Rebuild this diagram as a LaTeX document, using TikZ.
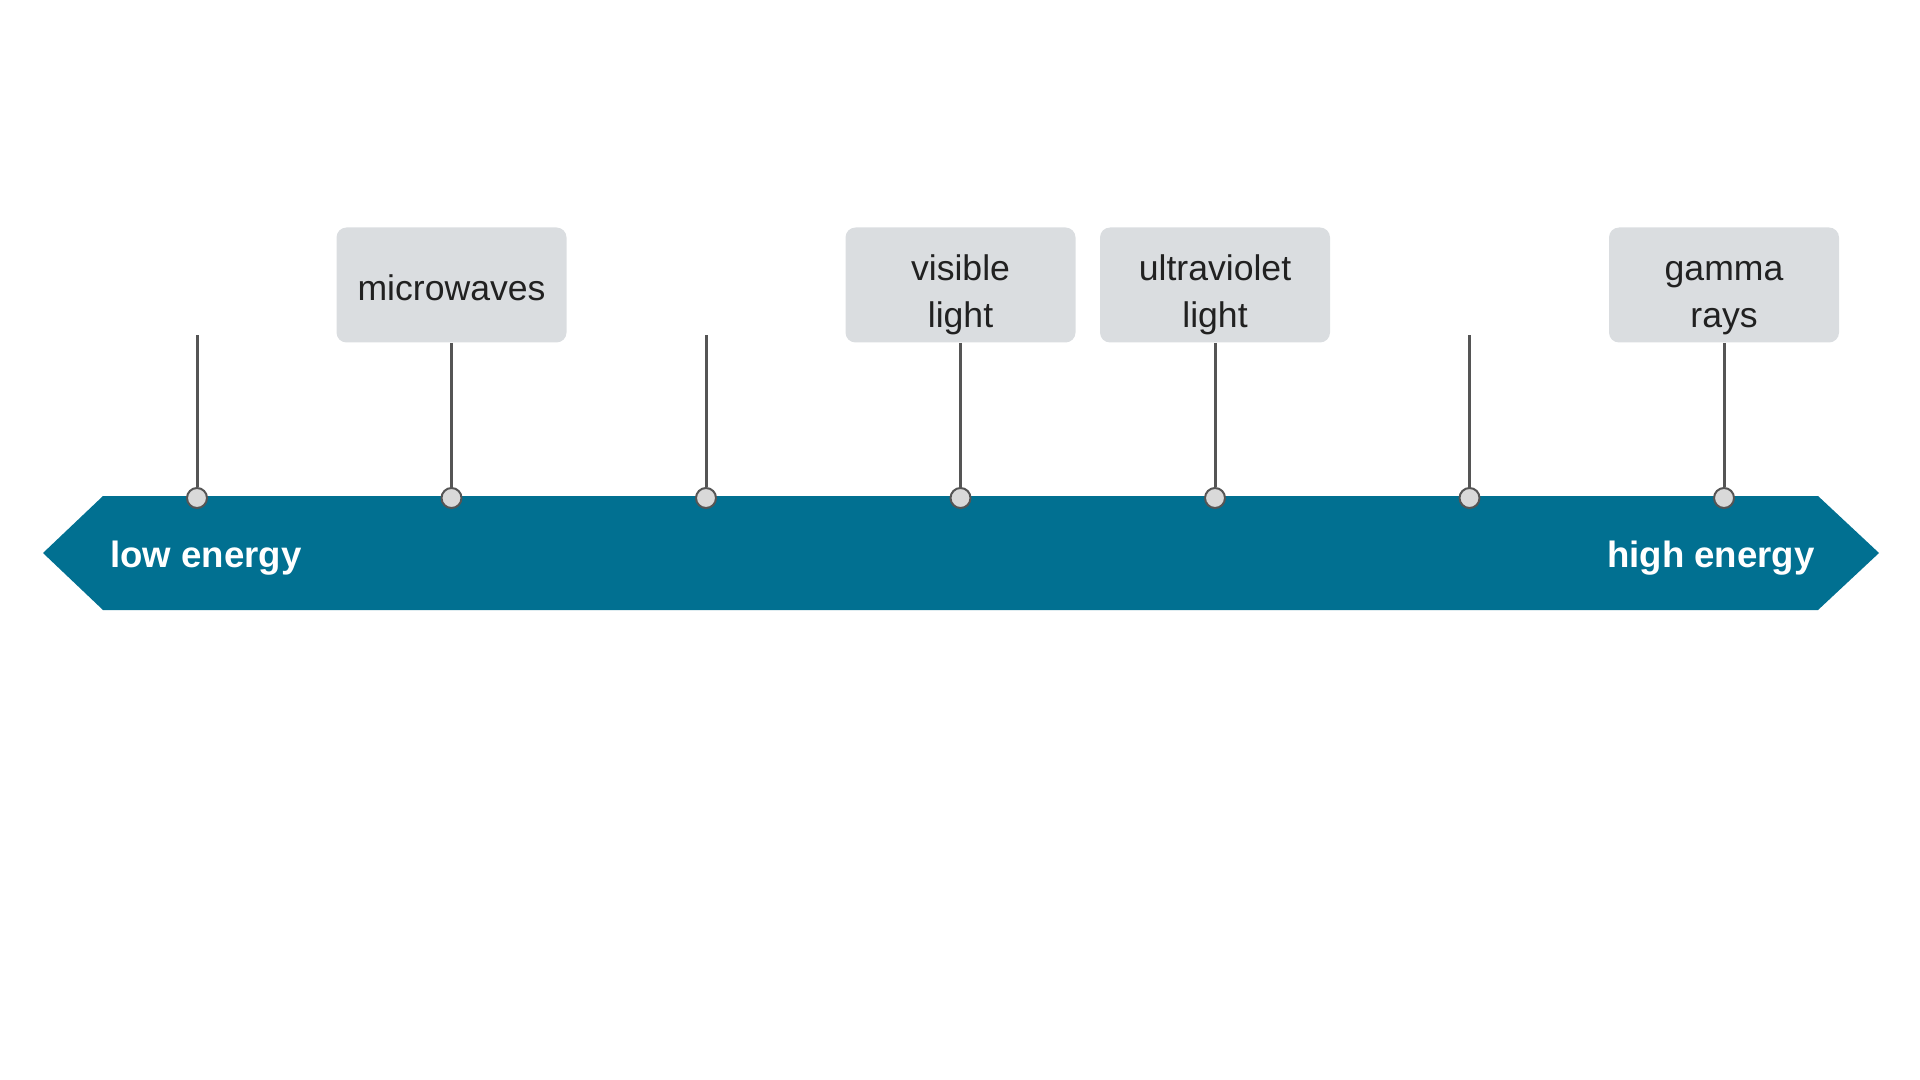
\documentclass[tikz,border=0pt]{standalone}
\usepackage{fontspec}
\setmainfont{Liberation Sans}
\usetikzlibrary{positioning}
\definecolor{bandblue}{HTML}{017091}
\definecolor{boxgray}{HTML}{DADDE0}
\definecolor{stemgray}{HTML}{555555}
\definecolor{dotgray}{HTML}{D9D9D9}

\begin{document}
\begin{tikzpicture}[x=0.5pt,y=-0.5pt,node distance=127.25pt,on grid,
	band/.style={fill=bandblue},
	tag/.style={fill=boxgray,rounded corners=5pt,minimum width=115pt,minimum height=57.5pt,
		inner sep=0pt,align=center,text=black!87,font=\fontsize{17.8}{23.5}\selectfont},
	oneline/.style={text height=15.2pt,text depth=0pt},
	twoline/.style={text height=43pt,text depth=0pt},
	dot/.style={circle,fill=dotgray,draw=stemgray,line width=1pt,inner sep=0pt,minimum size=10pt},
	stem/.style={draw=stemgray,line width=1.5pt},
	endtext/.style={text=white,inner sep=0pt,font=\fontsize{18.3}{22}\selectfont\bfseries}]
	\useasboundingbox (0,0) rectangle (1920,1080);
	\path[band] (43,553) -- (103,496) -- (1818,496) -- (1879,553) -- (1818,610) -- (103,610) -- cycle;
	\node[endtext,anchor=base west] (low) at (110,567) {low energy};
	\node[endtext,anchor=base east] (high) at (1815,567) {high energy};
	% markers on the band
	\node[dot] (m1) at (197,498) {};
	\node[dot,right=of m1] (m2) {};
	\node[dot,right=of m2] (m3) {};
	\node[dot,right=of m3] (m4) {};
	\node[dot,right=of m4] (m5) {};
	\node[dot,right=of m5] (m6) {};
	\node[dot,right=of m6] (m7) {};
	% labels
	\node[tag,oneline,above=106.5pt of m2] (micro) {microwaves};
	\node[tag,twoline,above=106.5pt of m4] (visible) {visible\\light};
	\node[tag,twoline,above=106.5pt of m5] (uv) {ultraviolet\\light};
	\node[tag,twoline,above=106.5pt of m7] (gamma) {gamma\\rays};
	\coordinate[above=81.25pt of m1] (t1);
	\coordinate[above=81.25pt of m3] (t3);
	\coordinate[above=81.25pt of m6] (t6);
	\path (t1) edge[stem] (m1)
		(micro) edge[stem] (m2)
		(t3) edge[stem] (m3)
		(visible) edge[stem] (m4)
		(uv) edge[stem] (m5)
		(t6) edge[stem] (m6)
		(gamma) edge[stem] (m7);
\end{tikzpicture}
\end{document}
